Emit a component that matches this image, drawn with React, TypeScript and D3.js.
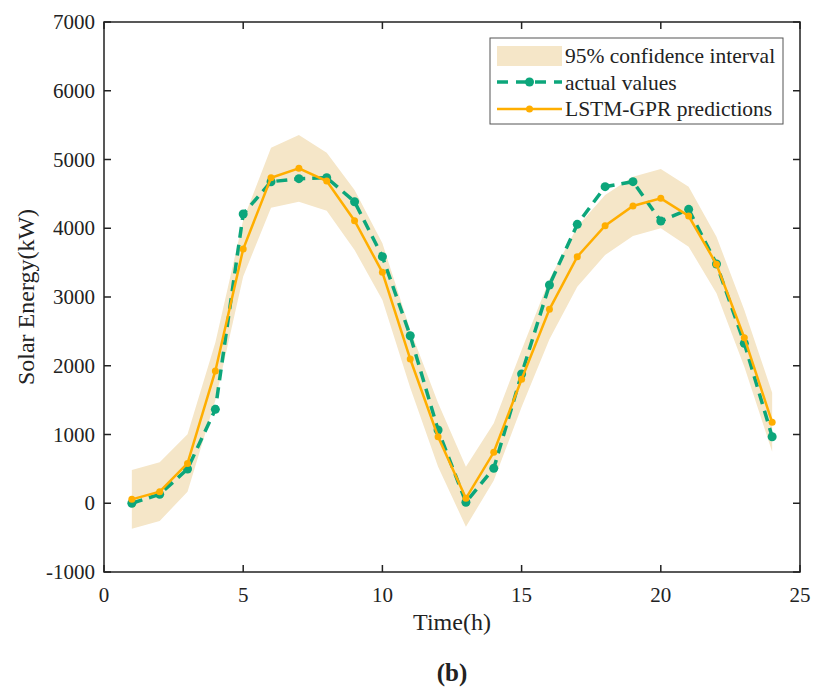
import React from "react";
import * as d3 from "d3";

const hours = [1,2,3,4,5,6,7,8,9,10,11,12,13,14,15,16,17,18,19,20,21,22,23,24];
const actualValues = [0,130,498,1366,4207,4677,4721,4735,4386,3587,2437,1065,15,508,1880,3175,4057,4605,4678,4105,4275,3480,2326,968];
const predictions = [57,168,580,1924,3698,4735,4871,4687,4110,3359,2098,968,72,741,1803,2821,3587,4037,4324,4435,4178,3475,2408,1177];
const upperBound = [484,595,1003,2340,4120,5172,5356,5099,4556,3781,2520,1458,532,1163,2230,3257,4023,4484,4750,4862,4605,3877,2811,1608];
const lowerBound = [-370,-258,168,1500,3300,4299,4386,4256,3684,2956,1680,531,-341,330,1400,2385,3150,3611,3887,3999,3732,3054,1986,750];
const xTicks = [0,5,10,15,20,25];
const yTicks = [-1000,0,1000,2000,3000,4000,5000,6000,7000];
const legendLabels = ["95% confidence interval", "actual values", "LSTM-GPR predictions"];

const W = 814, H = 693;
const L = 104, R = 800, T = 22, B = 572;
const BAND = "#f5e6c8";
const GREEN = "#0ca67b";
const ORANGE = "#ffae00";
const FONT = "'Liberation Serif', 'Times New Roman', serif";

export default function App() {
  const x = d3.scaleLinear().domain([0, 25]).range([L, R]);
  const y = d3.scaleLinear().domain([-1000, 7000]).range([B, T]);
  const band = d3.area<number>()
    .x((_, i) => x(hours[i]))
    .y0((_, i) => y(lowerBound[i]))
    .y1((_, i) => y(upperBound[i]));
  const line = d3.line<number>().x((_, i) => x(hours[i])).y((d) => y(d));
  const tick = 7;
  return (
    <svg width={W} height={H} style={{ position: "absolute", left: 0, top: 0, background: "#fff" }}>
      <path d={band(hours) || ""} fill={BAND} />
      <path d={line(actualValues) || ""} fill="none" stroke={GREEN} strokeWidth={3.5} strokeDasharray="11,7" />
      {actualValues.map((v, i) => (
        <circle key={"a" + i} cx={x(hours[i])} cy={y(v)} r={4.5} fill={GREEN} />
      ))}
      <path d={line(predictions) || ""} fill="none" stroke={ORANGE} strokeWidth={2.5} />
      {predictions.map((v, i) => (
        <circle key={"p" + i} cx={x(hours[i])} cy={y(v)} r={3.5} fill={ORANGE} />
      ))}
      <rect x={L} y={T} width={R - L} height={B - T} fill="none" stroke="#222" strokeWidth={1.5} />
      {xTicks.map((t) => (
        <g key={"x" + t}>
          <line x1={x(t)} x2={x(t)} y1={B} y2={B - tick} stroke="#222" strokeWidth={1.5} />
          <line x1={x(t)} x2={x(t)} y1={T} y2={T + tick} stroke="#222" strokeWidth={1.5} />
          <text x={x(t)} y={B + 30} textAnchor="middle" fontFamily={FONT} fontSize={21} fill="#222">{t}</text>
        </g>
      ))}
      {yTicks.map((t) => (
        <g key={"y" + t}>
          <line x1={L} x2={L + tick} y1={y(t)} y2={y(t)} stroke="#222" strokeWidth={1.5} />
          <line x1={R} x2={R - tick} y1={y(t)} y2={y(t)} stroke="#222" strokeWidth={1.5} />
          <text x={L - 9} y={y(t) + 7} textAnchor="end" fontFamily={FONT} fontSize={21} fill="#222">{t}</text>
        </g>
      ))}
      <text x={452} y={630} textAnchor="middle" fontFamily={FONT} fontSize={24} fill="#222">Time(h)</text>
      <text transform={`translate(34,${(T + B) / 2}) rotate(-90)`} textAnchor="middle" fontFamily={FONT} fontSize={24} fill="#222">Solar Energy(kW)</text>
      <text x={452} y={681} textAnchor="middle" fontFamily={FONT} fontSize={25} fontWeight="bold" fill="#222">(b)</text>
      <g>
        <rect x={490} y={38} width={293} height={86} fill="#fff" stroke="#555" strokeWidth={1} />
        <rect x={497} y={46} width={65} height={20} fill={BAND} />
        <line x1={497} x2={562} y1={82} y2={82} stroke={GREEN} strokeWidth={3.5} strokeDasharray="11,8" />
        <circle cx={529.5} cy={82} r={4.5} fill={GREEN} />
        <line x1={497} x2={562} y1={109} y2={109} stroke={ORANGE} strokeWidth={2.5} />
        <circle cx={529.5} cy={109} r={3.5} fill={ORANGE} />
        {legendLabels.map((s, i) => (
          <text key={s} x={565} y={63 + i * 26.5} fontFamily={FONT} fontSize={21.5} fill="#222">{s}</text>
        ))}
      </g>
    </svg>
  );
}
